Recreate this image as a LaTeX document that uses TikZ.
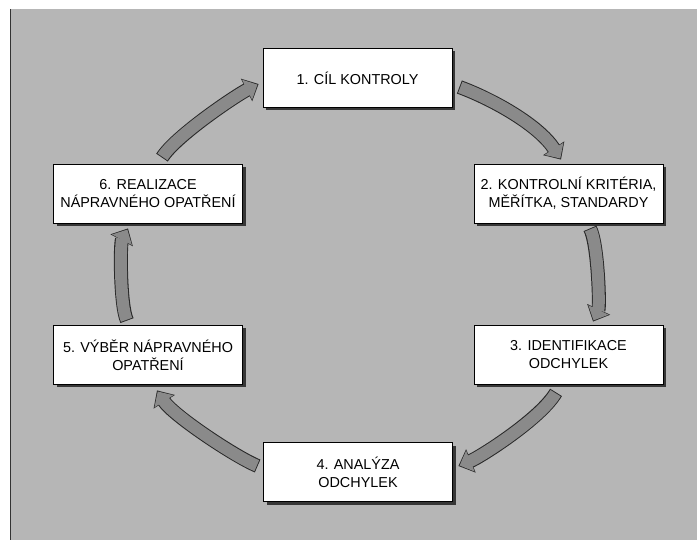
\documentclass[tikz,border=0pt]{standalone}
\usepackage{fontspec}
\setmainfont{Liberation Sans}
\usetikzlibrary{arrows.meta,shadows}
\definecolor{bggray}{RGB}{182,182,182}
\definecolor{arrowfill}{RGB}{138,138,138}
\definecolor{arrowedge}{RGB}{40,40,40}
\definecolor{shadowgray}{RGB}{55,55,55}
\tikzset{
  stepbox/.style={draw=black, line width=0.8pt, fill=white, minimum width=189pt, minimum height=59pt,
    inner sep=0pt, align=center, font=\fontsize{14.4}{18}\selectfont,
    drop shadow={shadow xshift=3pt, shadow yshift=-3pt, fill=shadowgray, opacity=1}},
  flowout/.style={line width=14pt, draw=arrowedge, -{Triangle[length=13.5pt,width=24.5pt]}},
  flowin/.style={line width=12pt, draw=arrowfill, shorten >=1.3pt, shorten <=0.9pt,
    -{Triangle[length=11.6pt,width=21.8pt]}},
}
\begin{document}
\begin{tikzpicture}[x=1pt,y=-1pt]
\useasboundingbox (0,0) rectangle (697,540);
\fill[bggray] (10,9) rectangle (697,540);
\draw[black!80, line width=1pt] (10.5,9) -- (10.5,540);

\node[stepbox] (b1) at (357.5,78) {1. CÍL KONTROLY};
\node[stepbox] (b2) at (568.5,193.5) {2. KONTROLNÍ KRITÉRIA,\\MĚŘÍTKA, STANDARDY};
\node[stepbox] (b3) at (568.5,355) {3. IDENTIFIKACE\\ODCHYLEK};
\node[stepbox] (b4) at (358,472) {4. ANALÝZA\\ODCHYLEK};
\node[stepbox] (b5) at (148,355) {5. VÝBĚR NÁPRAVNÉHO\\OPATŘENÍ};
\node[stepbox] (b6) at (148,194) {6. REALIZACE\\NÁPRAVNÉHO OPATŘENÍ};

\foreach \s in {flowout,flowin}{
  \draw[\s] ([shift={(7,9)}]b1.east) .. controls +(35,13) and +(-22,-34) .. ([shift={(-7.5,-4)}]b2.north);
  \draw[\s] ([shift={(21.5,5)}]b2.south) .. controls +(8,15) and +(7,-15) .. ([shift={(24.5,-3.5)}]b3.north);
  \draw[\s] ([shift={(-12.5,7.5)}]b3.south) .. controls +(-15,26) and +(22,-9) .. ([shift={(5.5,-6)}]b4.east);
  \draw[\s] ([shift={(-5.5,-6)}]b4.west) .. controls +(-22,-9) and +(16,25) .. ([shift={(9,5.5)}]b5.south);
  \draw[\s] ([shift={(-21,-4.5)}]b5.north) .. controls +(-7,-15) and +(-8,15) .. ([shift={(-20,4.5)}]b6.south);
  \draw[\s] ([shift={(14,-6.5)}]b6.north) .. controls +(14,-22) and +(-22,11) .. ([shift={(-4,6)}]b1.west);
}
\end{tikzpicture}
\end{document}
